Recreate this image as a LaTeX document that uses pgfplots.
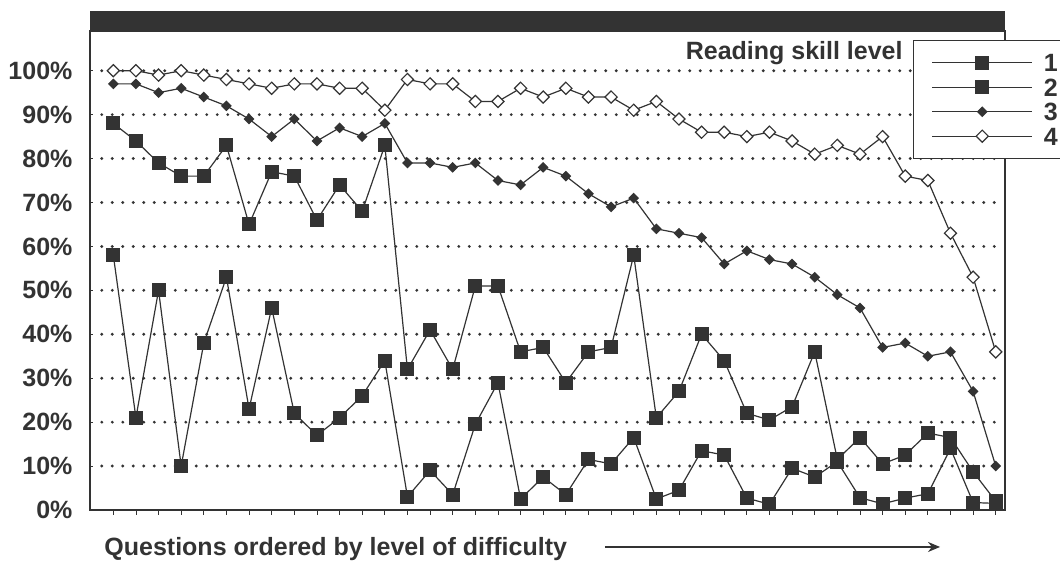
\documentclass[border=0pt]{standalone}
\usepackage{fontspec}
\setmainfont{Liberation Sans}
\usepackage{pgfplots}
\pgfplotsset{compat=1.18}
\usetikzlibrary{arrows.meta}
\definecolor{ink}{gray}{0.2}
\begin{document}
\begin{tikzpicture}[font=\fontsize{12.5}{15}\selectfont\bfseries]
\begin{axis}[
  scale only axis, width=457.5pt, height=239.5pt,
  xmin=-0.03, xmax=40.41, ymin=0, ymax=109.04,
  axis line style={ink, line width=1pt},
  xtick={1,...,40}, xticklabels={}, xtick pos=bottom, xtick align=outside,
  xtick style={ink, line width=0.4pt, /pgfplots/major tick length=2.5pt},
  ytick={0,10,...,100},
  yticklabels={0\%,10\%,20\%,30\%,40\%,50\%,60\%,70\%,80\%,90\%,100\%},
  ytick pos=left, ytick align=inside,
  ytick style={ink, line width=0.4pt, /pgfplots/major tick length=1.5pt},
  yticklabel style={inner sep=0pt, xshift=-8.6pt, text=ink},
  clip=false,
  legend style={at={(0.8995,0.981)}, anchor=north west, draw=ink, line width=0.6pt,
    fill=white, inner xsep=9pt, inner ysep=6.5pt, row sep=3.25pt,
    nodes={inner sep=0pt, text height=9pt, text depth=0pt, text=ink},
    /tikz/every odd column/.append style={column sep=5.5pt}},
  legend image code/.code={\draw[mark repeat=2, mark phase=2, #1] plot coordinates {(0pt,0pt) (25pt,0pt) (50pt,0pt)};},
]
\fill[ink] (rel axis cs:0,1) rectangle ([yshift=10pt]rel axis cs:1,1);
\pgfplotsinvokeforeach{10,20,...,100}{
  \draw[ink, line width=1.6pt, line cap=round, dash pattern=on 0pt off 5.25pt] (axis cs:0.49,#1) -- (axis cs:40.1,#1);
}
% Level 1 (lower squares)
\addplot[ink, line width=0.6pt, mark=square*, mark size=3.2pt, mark options={fill=ink, draw=ink}] coordinates {
(1,58)(2,21)(3,50)(4,10)(5,38)(6,53)(7,23)(8,46)(9,22)(10,17)
(11,21)(12,26)(13,34)(14,3)(15,9)(16,3.5)(17,19.5)(18,29)(19,2.5)(20,7.5)
(21,3.5)(22,11.5)(23,10.5)(24,16.5)(25,2.5)(26,4.5)(27,13.5)(28,12.5)(29,2.7)(30,1.3)
(31,9.5)(32,7.5)(33,11)(34,2.8)(35,1.4)(36,2.7)(37,3.7)(38,14)(39,1.7)(40,1.5)};
\addlegendentry{1}
% Level 2 (upper squares)
\addplot[ink, line width=0.6pt, mark=square*, mark size=3.2pt, mark options={fill=ink, draw=ink}] coordinates {
(1,88)(2,84)(3,79)(4,76)(5,76)(6,83)(7,65)(8,77)(9,76)(10,66)
(11,74)(12,68)(13,83)(14,32)(15,41)(16,32)(17,51)(18,51)(19,36)(20,37)
(21,29)(22,36)(23,37)(24,58)(25,21)(26,27)(27,40)(28,34)(29,22)(30,20.5)
(31,23.5)(32,36)(33,11.5)(34,16.5)(35,10.5)(36,12.5)(37,17.5)(38,16.5)(39,8.7)(40,2)};
\addlegendentry{2}
% Level 3 (small filled diamonds)
\addplot[ink, line width=0.6pt, mark=square*, mark size=1.6pt, mark options={rotate=45, fill=ink, draw=ink}] coordinates {
(1,97)(2,97)(3,95)(4,96)(5,94)(6,92)(7,89)(8,85)(9,89)(10,84)
(11,87)(12,85)(13,88)(14,79)(15,79)(16,78)(17,79)(18,75)(19,74)(20,78)
(21,76)(22,72)(23,69)(24,71)(25,64)(26,63)(27,62)(28,56)(29,59)(30,57)
(31,56)(32,53)(33,49)(34,46)(35,37)(36,38)(37,35)(38,36)(39,27)(40,10)};
\addlegendentry{3}
% Level 4 (open diamonds)
\addplot[ink, line width=0.6pt, mark=square*, mark size=2.15pt, mark options={rotate=45, fill=white, draw=ink, line width=0.6pt}] coordinates {
(1,100)(2,100)(3,99)(4,100)(5,99)(6,98)(7,97)(8,96)(9,97)(10,97)
(11,96)(12,96)(13,91)(14,98)(15,97)(16,97)(17,93)(18,93)(19,96)(20,94)
(21,96)(22,94)(23,94)(24,91)(25,93)(26,89)(27,86)(28,86)(29,85)(30,86)
(31,84)(32,81)(33,83)(34,81)(35,85)(36,76)(37,75)(38,63)(39,53)(40,36)};
\addlegendentry{4}
\node[anchor=east, text=ink, inner sep=0pt] at (rel axis cs:0.8885,0.954) {Reading skill level};
\node[anchor=west, text=ink, inner sep=0pt] at (rel axis cs:0.0153,-0.0814) {Questions ordered by level of difficulty};
\draw[-{Stealth[length=6pt,width=5pt]}, ink, line width=0.8pt] (rel axis cs:0.5628,-0.0772) -- (rel axis cs:0.929,-0.0772);
\end{axis}
\pgfresetboundingbox
\path[use as bounding box] (-45pt,-28pt) rectangle (485pt,255pt);
\end{tikzpicture}
\end{document}
